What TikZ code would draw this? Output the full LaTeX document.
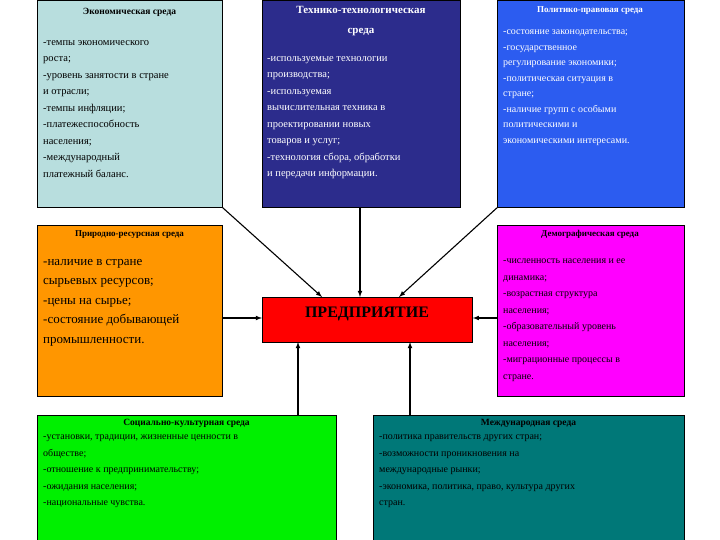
\documentclass[tikz,border=0pt]{standalone}
\usepackage{fontspec}
\setmainfont{Liberation Serif}
\begin{document}
\begin{tikzpicture}[x=1pt,y=-1pt,
 box/.style={draw=black,line width=0.8pt,anchor=north west,inner sep=0pt},
 txt/.style={anchor=north west,align=left,inner sep=0pt,font=\fontsize{10.5}{16.5}\selectfont},
 ttl/.style={anchor=north,align=center,inner sep=0pt,font=\bfseries\fontsize{9.5}{14}\selectfont},
 arr/.style={-latex,line width=1.1pt}]
\useasboundingbox (0,0) rectangle (720,540);
\definecolor{econ}{RGB}{184,222,222}
\definecolor{tech}{RGB}{44,44,140}
\definecolor{polit}{RGB}{44,92,240}
\definecolor{nat}{RGB}{255,150,0}
\definecolor{dem}{RGB}{255,0,255}
\definecolor{ent}{RGB}{255,0,0}
\definecolor{soc}{RGB}{0,240,0}
\definecolor{intl}{RGB}{0,120,120}
% boxes
\node[box,fill=econ,minimum width=185,minimum height=207] (e) at (37,0) {};
\node[box,fill=tech,minimum width=198,minimum height=207] (t) at (262,0) {};
\node[box,fill=polit,minimum width=187,minimum height=207] (p) at (497,0) {};
\node[box,fill=nat,minimum width=185,minimum height=171] (n) at (37,225) {};
\node[box,fill=dem,minimum width=187,minimum height=171] (d) at (497,225) {};
\node[box,fill=ent,minimum width=210,minimum height=45] (c) at (262,297) {};
\node[box,fill=soc,minimum width=299,minimum height=130] (s) at (37,415) {};
\node[box,fill=intl,minimum width=311,minimum height=130] (i) at (373,415) {};
% texts
\node[ttl] (et) at (129.5,8) {Экономическая среда};
\node[txt] (eb) at (43,40) {-темпы экономического\\роста;\\-уровень занятости в стране\\и отрасли;\\-темпы инфляции;\\-платежеспособность\\населения;\\-международный\\платежный баланс.};
\node[ttl,text=white,font=\bfseries\fontsize{11}{20}\selectfont] (tt) at (361,6) {Технико-технологическая\\среда};
\node[txt,text=white] (tb) at (267,56) {-используемые технологии\\производства;\\-используемая\\вычислительная техника в\\проектировании новых\\товаров и услуг;\\-технология сбора, обработки\\и передачи информации.};
\node[ttl,text=white,font=\bfseries\fontsize{9}{14}\selectfont] (pt) at (590,6) {Политико-правовая среда};
\node[txt,text=white,font=\fontsize{10}{15.5}\selectfont] (pb) at (503,30) {-состояние законодательства;\\-государственное\\регулирование экономики;\\-политическая ситуация в\\стране;\\-наличие групп с особыми\\политическими и\\экономическими интересами.};
\node[ttl,font=\bfseries\fontsize{9}{14}\selectfont] (nt) at (129.5,230) {Природно-ресурсная среда};
\node[txt,font=\fontsize{13}{19.5}\selectfont] (nb) at (43,259) {-наличие в стране\\сырьевых ресурсов;\\-цены на сырье;\\-состояние добывающей\\промышленности.};
\node[ttl,font=\bfseries\fontsize{9}{14}\selectfont] (dt) at (590,230) {Демографическая среда};
\node[txt,font=\fontsize{10}{16.5}\selectfont] (db) at (503,259) {-численность населения и ее\\динамика;\\-возрастная структура\\населения;\\-образовательный уровень\\населения;\\-миграционные процессы в\\стране.};
\node[font=\bfseries\fontsize{16}{18}\selectfont,inner sep=0pt] (ct) at (367,314) {ПРЕДПРИЯТИЕ};
\node[ttl] (st) at (186.5,419) {Социально-культурная среда};
\node[txt,font=\fontsize{10}{16.5}\selectfont] (sb) at (43,435) {-установки, традиции, жизненные ценности в\\обществе;\\-отношение к предпринимательству;\\-ожидания населения;\\-национальные чувства.};
\node[ttl] (it) at (528.5,419) {Международная среда};
\node[txt,font=\fontsize{10}{16.5}\selectfont] (ib) at (379,435) {-политика правительств других стран;\\-возможности проникновения на\\международные рынки;\\-экономика, политика, право, культура других\\стран.};
% arrows
\draw[arr] (e.south east) -- (322,297);
\draw[arr] (t.south -| 360,0) -- (360,297);
\draw[arr] (p.south west) -- (399,297);
\draw[arr] (n.east |- 0,318) -- (c.west |- 0,318);
\draw[arr] (d.west |- 0,318) -- (c.east |- 0,318);
\draw[arr] (s.north -| 298,0) -- (298,342);
\draw[arr] (i.north -| 410,0) -- (410,342);
\end{tikzpicture}
\end{document}
